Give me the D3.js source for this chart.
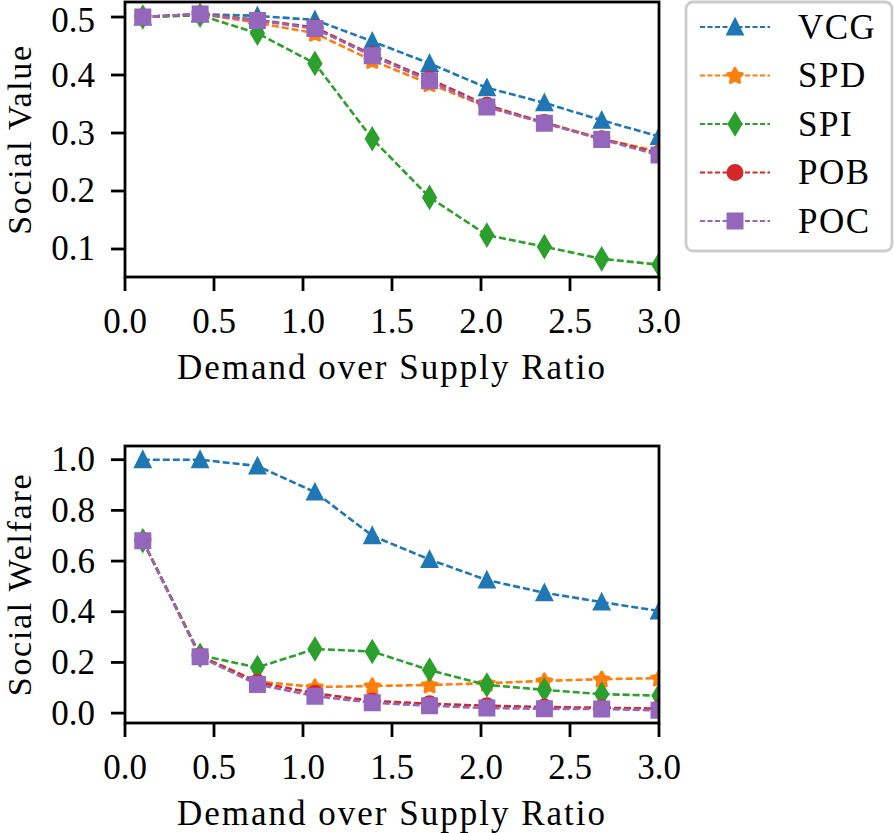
<!DOCTYPE html>
<html>
<head>
<meta charset="utf-8">
<script src="https://cdn.jsdelivr.net/npm/d3@7"></script>
<style>
  body { margin: 0; background: white; }
  text { font-family: "Liberation Serif", "Times New Roman", serif; fill: black; }
</style>
</head>
<body>
<svg id="chart" width="894" height="833"></svg>
<script>
// x positions of the runs (demand / supply)
const ratios = [0.1, 0.422, 0.744, 1.067, 1.389, 1.711, 2.033, 2.356, 2.678, 3.0]
const methods = ["VCG", "SPD", "SPI", "POB", "POC"]
const colors = ["#1f77b4", "#ff7f0e", "#2ca02c", "#d62728", "#9467bd"]
const xTicks = [0, 0.5, 1, 1.5, 2, 2.5, 3]

// social value (top panel)
const valueVCG = [0.500, 0.505, 0.502, 0.495, 0.458, 0.420, 0.378, 0.352, 0.322, 0.294]
const valueSPD = [0.500, 0.505, 0.490, 0.472, 0.425, 0.385, 0.345, 0.318, 0.290, 0.268]
const valueSPI = [0.500, 0.503, 0.472, 0.420, 0.290, 0.189, 0.124, 0.104, 0.083, 0.073]
const valuePOB = [0.500, 0.505, 0.495, 0.482, 0.435, 0.393, 0.348, 0.318, 0.290, 0.265]
const valuePOC = [0.500, 0.505, 0.494, 0.480, 0.433, 0.390, 0.345, 0.317, 0.289, 0.262]
const valueTicks = [0.1, 0.2, 0.3, 0.4, 0.5]

// social welfare (bottom panel)
const welfareVCG = [1.000, 1.000, 0.975, 0.872, 0.700, 0.606, 0.525, 0.475, 0.438, 0.403]
const welfareSPD = [0.680, 0.225, 0.125, 0.103, 0.107, 0.111, 0.118, 0.127, 0.134, 0.138]
const welfareSPI = [0.680, 0.228, 0.180, 0.253, 0.243, 0.170, 0.111, 0.092, 0.075, 0.069]
const welfarePOB = [0.680, 0.225, 0.122, 0.078, 0.048, 0.037, 0.029, 0.024, 0.021, 0.018]
const welfarePOC = [0.680, 0.222, 0.113, 0.067, 0.041, 0.029, 0.020, 0.017, 0.016, 0.011]
const welfareTicks = [0.0, 0.2, 0.4, 0.6, 0.8, 1.0]

const left = 125, right = 659
const fontSize = 35

let svg = d3.select("#chart")
let x = d3.scaleLinear().domain([0, 3]).range([left, right])

// marker path for a given method, size s (px)
function markerPath(name, s) {
  let h = s / 2
  if (name == "VCG") return "M0," + (-h) + "L" + h + "," + h + "L" + (-h) + "," + h + "Z"
  if (name == "SPD") {//5 point star, drawn fat with round joins
    let p = d3.path()
    let ro = h * 1.1
    for (let i = 0; i < 10; i++) {
      let r = i % 2 == 0 ? ro : ro * 0.52
      let a = Math.PI * i / 5
      let px = r * Math.sin(a), py = -r * Math.cos(a) + ro * 0.08
      if (i == 0) p.moveTo(px, py); else p.lineTo(px, py)
    }
    p.closePath()
    return p.toString()
  }
  if (name == "SPI") {//thin diamond
    let dy = s * 0.7071, dx = dy * 0.6
    return "M0," + (-dy) + "L" + dx + ",0L0," + dy + "L" + (-dx) + ",0Z"
  }
  if (name == "POB") {
    let c = d3.path()
    c.arc(0, 0, h, 0, 2 * Math.PI)
    c.closePath()
    return c.toString()
  }
  return "M" + (-h) + "," + (-h) + "H" + h + "V" + h + "H" + (-h) + "Z"
}

function drawMarker(sel, k) {
  sel.attr("d", markerPath(methods[k], 14))
    .attr("fill", colors[k])
    .attr("stroke", colors[k])
    .attr("stroke-width", 3)
    .attr("stroke-linejoin", methods[k] == "SPD" ? "round" : "miter")
}

let panels = [
  {top: 2, bottom: 277, domain: [0.0517, 0.5259], ticks: valueTicks, label: "Social Value",
   series: [valueVCG, valueSPD, valueSPI, valuePOB, valuePOC]},
  {top: 446, bottom: 723, domain: [-0.039, 1.054], ticks: welfareTicks, label: "Social Welfare",
   series: [welfareVCG, welfareSPD, welfareSPI, welfarePOB, welfarePOC]}
]

panels.forEach(function(p, pi) {
  let y = d3.scaleLinear().domain(p.domain).range([p.bottom, p.top])
  let g = svg.append("g")

  g.append("clipPath").attr("id", "clip" + pi)
    .append("rect")
    .attr("x", left).attr("y", p.top)
    .attr("width", right - left).attr("height", p.bottom - p.top)

  let plot = g.append("g").attr("clip-path", "url(#clip" + pi + ")")
  let line = d3.line().x(function(d, i) { return x(ratios[i]) }).y(function(d) { return y(d) })

  p.series.forEach(function(vals, k) {
    plot.append("path")
      .attr("d", line(vals))
      .attr("fill", "none")
      .attr("stroke", colors[k])
      .attr("stroke-width", 2.6)
      .attr("stroke-dasharray", "7,3")
    plot.selectAll(".m" + k)
      .data(vals)
      .enter().append("path")
      .attr("class", "m" + k)
      .attr("transform", function(d, i) { return "translate(" + x(ratios[i]) + "," + y(d) + ")" })
      .call(drawMarker, k)
  })

  // frame
  g.append("rect")
    .attr("x", left).attr("y", p.top)
    .attr("width", right - left).attr("height", p.bottom - p.top)
    .attr("fill", "none").attr("stroke", "black").attr("stroke-width", 2.8)

  // x ticks
  xTicks.forEach(function(t) {
    g.append("line")
      .attr("x1", x(t)).attr("x2", x(t))
      .attr("y1", p.bottom).attr("y2", p.bottom + 14)
      .attr("stroke", "black").attr("stroke-width", 2.8)
    g.append("text")
      .attr("x", x(t)).attr("y", p.bottom + 56)
      .attr("text-anchor", "middle")
      .style("font-size", fontSize + "px")
      .text(d3.format(".1f")(t))
  })
  g.append("text")
    .attr("x", (left + right) / 2).attr("y", p.bottom + 102)
    .attr("text-anchor", "middle")
    .style("font-size", fontSize + "px")
    .style("letter-spacing", "2px")
    .text("Demand over Supply Ratio")

  // y ticks
  p.ticks.forEach(function(t) {
    g.append("line")
      .attr("x1", left - 14).attr("x2", left)
      .attr("y1", y(t)).attr("y2", y(t))
      .attr("stroke", "black").attr("stroke-width", 2.8)
    g.append("text")
      .attr("x", 95).attr("y", Math.max(y(t) + 11.5, 32))//keep the top label inside the page
      .attr("text-anchor", "end")
      .style("font-size", fontSize + "px")
      .text(d3.format(".1f")(t))
  })
  g.append("text")
    .attr("transform", "translate(31," + (p.top + p.bottom) / 2 + ") rotate(-90)")
    .attr("text-anchor", "middle")
    .style("font-size", "34px")
    .style("letter-spacing", "1.7px")
    .text(p.label)
})

// legend
let legend = svg.append("g")
legend.append("rect")
  .attr("x", 686).attr("y", 2).attr("width", 206).attr("height", 249)
  .attr("rx", 7).attr("ry", 7)
  .attr("fill", "white").attr("fill-opacity", 0.8)
  .attr("stroke", "#cccccc").attr("stroke-width", 2.8)

methods.forEach(function(m, k) {
  let cy = 27 + k * 48.5
  legend.append("line")
    .attr("x1", 700).attr("x2", 770)
    .attr("y1", cy).attr("y2", cy)
    .attr("stroke", colors[k]).attr("stroke-width", 2.2)
    .attr("stroke-dasharray", "5,2.5")
  legend.append("path")
    .attr("transform", "translate(735," + cy + ")")
    .call(drawMarker, k)
  legend.append("text")
    .attr("x", 798).attr("y", cy + 11.5)
    .style("font-size", fontSize + "px")
    .style("letter-spacing", "1.5px")
    .text(m)
})
</script>
</body>
</html>
